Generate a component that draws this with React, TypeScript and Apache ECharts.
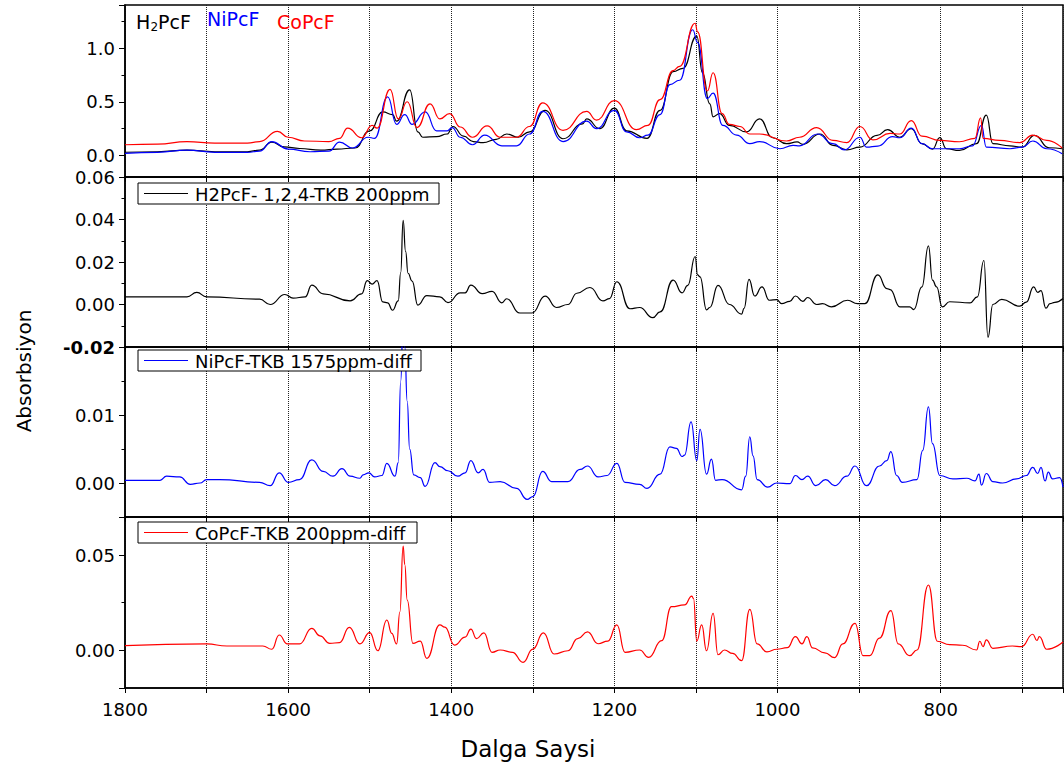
import React, { useEffect, useRef } from "react";
import * as echarts from "echarts";

// ---- Data: wavenumber (cm-1), absorbance ----
const topH2PcF: number[][] = [
  [1800, 0.03], [1760, 0.035], [1724, 0.05], [1690, 0.035], [1650, 0.035], [1635, 0.05], [1620, 0.125],
  [1605, 0.08], [1586, 0.065], [1560, 0.05], [1540, 0.06], [1518, 0.07], [1500, 0.23], [1484, 0.405],
  [1472, 0.38], [1467, 0.32], [1451, 0.61], [1441, 0.22], [1435, 0.17], [1418, 0.175], [1405, 0.2],
  [1398, 0.27], [1385, 0.18], [1373, 0.13], [1361, 0.12], [1345, 0.15], [1332, 0.2], [1318, 0.17],
  [1304, 0.22], [1285, 0.42], [1263, 0.156], [1239, 0.295], [1234, 0.34], [1218, 0.25], [1200, 0.44],
  [1185, 0.23], [1160, 0.16], [1144, 0.42], [1128, 0.78], [1116, 0.81], [1099, 1.11], [1092, 0.77],
  [1083, 0.48], [1079, 0.36], [1071, 0.39], [1059, 0.28], [1038, 0.22], [1022, 0.34], [1006, 0.165],
  [989, 0.11], [976, 0.126], [969, 0.104], [948, 0.2], [932, 0.095], [915, 0.053], [899, 0.078],
  [878, 0.187], [865, 0.24], [850, 0.17], [836, 0.25], [823, 0.11], [810, 0.06], [801, 0.166],
  [793, 0.063], [777, 0.047], [756, 0.11], [744, 0.375], [736, 0.11], [715, 0.09], [700, 0.078],
  [685, 0.187], [667, 0.072], [651, 0.063],
];

const topNiPcF: number[][] = [
  [1800, 0.02], [1760, 0.03], [1724, 0.05], [1690, 0.03], [1650, 0.03], [1635, 0.04], [1620, 0.13],
  [1600, 0.06], [1573, 0.035], [1550, 0.04], [1537, 0.125], [1521, 0.07], [1502, 0.17], [1494, 0.16],
  [1478, 0.545], [1467, 0.29], [1457, 0.38], [1448, 0.29], [1432, 0.405], [1418, 0.23], [1405, 0.23],
  [1399, 0.26], [1389, 0.17], [1374, 0.1], [1359, 0.19], [1338, 0.09], [1320, 0.09], [1304, 0.2],
  [1288, 0.41], [1263, 0.13], [1234, 0.32], [1222, 0.25], [1200, 0.42], [1185, 0.22], [1169, 0.165],
  [1159, 0.19], [1144, 0.38], [1132, 0.66], [1120, 0.7], [1104, 1.17], [1098, 1.05], [1086, 0.53],
  [1079, 0.58], [1067, 0.28], [1050, 0.19], [1034, 0.11], [1022, 0.13], [997, 0.063], [981, 0.094],
  [973, 0.09], [951, 0.2], [932, 0.11], [918, 0.053], [899, 0.17], [891, 0.078], [877, 0.088],
  [859, 0.175], [850, 0.165], [836, 0.255], [823, 0.11], [810, 0.063], [793, 0.063], [777, 0.063],
  [761, 0.09], [750, 0.28], [744, 0.078], [715, 0.063], [700, 0.078], [687, 0.135], [670, 0.063],
  [651, 0.016],
];

const topCoPcF: number[][] = [
  [1800, 0.1], [1760, 0.105], [1724, 0.13], [1690, 0.115], [1650, 0.115], [1635, 0.13], [1613, 0.225],
  [1600, 0.17], [1580, 0.135], [1550, 0.13], [1537, 0.16], [1527, 0.255], [1510, 0.165], [1497, 0.28],
  [1491, 0.255], [1475, 0.615], [1465, 0.34], [1454, 0.5], [1442, 0.26], [1426, 0.48], [1414, 0.34],
  [1402, 0.39], [1389, 0.265], [1374, 0.17], [1356, 0.275], [1340, 0.17], [1320, 0.17], [1304, 0.27],
  [1288, 0.49], [1263, 0.234], [1234, 0.41], [1222, 0.33], [1200, 0.51], [1173, 0.24], [1159, 0.28],
  [1144, 0.52], [1128, 0.79], [1120, 0.83], [1101, 1.23], [1098, 1.15], [1086, 0.6], [1079, 0.77],
  [1068, 0.39], [1059, 0.29], [1046, 0.27], [1034, 0.2], [1022, 0.2], [989, 0.135], [973, 0.17],
  [952, 0.26], [932, 0.14], [915, 0.12], [899, 0.27], [883, 0.145], [862, 0.205], [850, 0.2],
  [836, 0.325], [823, 0.18], [801, 0.14], [777, 0.128], [758, 0.16], [751, 0.35], [748, 0.16],
  [728, 0.14], [703, 0.12], [687, 0.19], [670, 0.14], [651, 0.07],
];

const diffH2PcF: number[][] = [
  [1800, 0.0036], [1724, 0.0036], [1712, 0.0057], [1700, 0.0036], [1635, 0.0025], [1622, 0.0],
  [1604, 0.0047], [1594, 0.003], [1579, 0.0036], [1571, 0.0091], [1557, 0.005], [1524, 0.0017],
  [1510, 0.005], [1503, 0.0112], [1497, 0.0096], [1491, 0.0112], [1484, 0.0012], [1478, 0.0008],
  [1472, -0.0027], [1465, 0.0017], [1462, 0.015], [1459, 0.0396], [1456, 0.025], [1453, 0.0147],
  [1448, 0.011], [1441, -0.0003], [1430, 0.0042], [1414, 0.0036], [1404, 0.0009], [1389, 0.0055],
  [1383, 0.0055], [1376, 0.0091], [1362, 0.0051], [1350, 0.0062], [1338, 0.0008], [1332, 0.0027],
  [1316, -0.004], [1301, -0.004], [1285, 0.0039], [1271, -0.0014], [1257, 0.0], [1246, 0.0053],
  [1230, 0.008], [1214, 0.0017], [1206, 0.0028], [1197, 0.0107], [1181, -0.002], [1169, -0.0014],
  [1153, -0.0062], [1144, -0.0035], [1128, 0.0115], [1117, 0.0055], [1110, 0.009], [1101, 0.0226],
  [1098, 0.0139], [1095, 0.013], [1087, -0.0025], [1083, -0.0014], [1073, 0.009], [1059, 0.0],
  [1044, -0.0045], [1041, -0.0018], [1035, 0.0118], [1028, 0.004], [1019, 0.0083], [1010, 0.002],
  [1001, 0.0023], [995, 0.0004], [985, 0.0015], [978, 0.004], [969, 0.0015], [963, 0.0033],
  [952, 0.0], [945, 0.0004], [934, -0.0011], [914, 0.002], [902, 0.0004], [893, 0.0004],
  [877, 0.0139], [866, 0.0075], [862, 0.007], [850, -0.0011], [838, -0.0011], [833, -0.0024],
  [823, 0.0083], [815, 0.0276], [810, 0.0115], [805, 0.0083], [798, -0.0011], [789, 0.0013],
  [764, 0.0008], [755, 0.0036], [747, 0.0207], [742, -0.0154], [736, 0.0], [725, 0.0024],
  [703, -0.0008], [695, 0.0011], [686, 0.0083], [681, 0.0057], [677, 0.0065], [671, -0.0017],
  [666, 0.0004], [660, 0.001], [650, 0.0028],
];

const diffNiPcF: number[][] = [
  [1800, 0.0004], [1757, 0.0004], [1749, 0.001], [1733, 0.0009], [1720, -0.0002], [1708, 0.0],
  [1700, 0.0005], [1684, 0.0005], [1635, 0.0001], [1622, -0.0004], [1611, 0.0015], [1600, 0.0001],
  [1586, 0.0005], [1571, 0.0034], [1557, 0.0017], [1545, 0.001], [1534, 0.0021], [1524, 0.001],
  [1512, 0.0007], [1508, 0.0012], [1501, 0.0015], [1494, 0.0009], [1485, 0.0011], [1479, 0.0029],
  [1469, 0.001], [1465, 0.003], [1462, 0.015], [1459, 0.024], [1457, 0.02], [1454, 0.012],
  [1451, 0.005], [1446, 0.0012], [1438, 0.0008], [1432, -0.0005], [1420, 0.003], [1414, 0.0024],
  [1404, 0.0018], [1392, 0.001], [1383, 0.0015], [1376, 0.0033], [1367, 0.0015], [1361, 0.002],
  [1353, 0.0001], [1340, 0.0002], [1320, -0.0008], [1307, -0.0024], [1300, -0.002], [1288, 0.0017],
  [1277, 0.0002], [1257, 0.0002], [1242, 0.002], [1233, 0.0025], [1220, 0.0009], [1209, 0.0011],
  [1197, 0.0029], [1187, 0.0001], [1169, -0.0002], [1160, -0.0008], [1144, 0.0013], [1132, 0.0053],
  [1124, 0.0051], [1117, 0.0039], [1114, 0.0041], [1106, 0.009], [1099, 0.0033], [1095, 0.0079],
  [1087, 0.0013], [1081, 0.0035], [1076, 0.0004], [1068, 0.0005], [1044, -0.001], [1039, 0.001],
  [1034, 0.0068], [1030, 0.004], [1025, 0.0005], [1012, -0.0006], [1001, 0.0], [985, -0.0001],
  [978, 0.0011], [970, 0.0005], [963, 0.001], [953, -0.0004], [941, 0.0005], [930, -0.0004],
  [915, 0.001], [905, 0.0025], [891, -0.0004], [875, 0.0025], [866, 0.0033], [861, 0.0046],
  [854, 0.0011], [847, 0.0001], [829, 0.0005], [822, 0.0048], [815, 0.0112], [810, 0.0058],
  [801, 0.0011], [785, 0.0006], [768, 0.0007], [758, 0.0003], [753, 0.0013], [750, -0.0003],
  [744, 0.0014], [736, 0.0002], [724, 0.0], [707, 0.0006], [695, 0.0011], [687, 0.0023],
  [681, 0.0014], [677, 0.0023], [672, 0.0003], [668, 0.0016], [663, 0.0006], [654, 0.0008],
  [650, -0.0006],
];

const diffCoPcF: number[][] = [
  [1800, 0.0023], [1700, 0.0032], [1675, 0.0021], [1631, 0.0021], [1620, 0.0004], [1611, 0.0079],
  [1601, 0.0032], [1586, 0.0032], [1571, 0.0114], [1561, 0.0074], [1549, 0.0035], [1537, 0.0039],
  [1525, 0.0119], [1512, 0.0032], [1500, 0.0091], [1490, -0.0004], [1479, 0.0158], [1473, 0.0088],
  [1467, 0.0032], [1463, 0.02], [1459, 0.0547], [1457, 0.045], [1454, 0.0263], [1447, 0.0035],
  [1438, 0.0047], [1430, -0.0044], [1414, 0.0132], [1408, 0.012], [1396, 0.0026], [1383, 0.0068],
  [1376, 0.011], [1369, 0.006], [1360, 0.009], [1350, -0.0012], [1340, 0.0], [1325, -0.0012],
  [1312, -0.0065], [1300, 0.0005], [1287, 0.009], [1274, -0.0021], [1257, -0.0004], [1245, 0.006],
  [1233, 0.0095], [1220, 0.0033], [1208, 0.0047], [1197, 0.0132], [1187, -0.0012], [1169, 0.0],
  [1158, -0.0039], [1142, 0.0049], [1130, 0.0228], [1114, 0.0237], [1105, 0.0284], [1103, 0.027],
  [1099, 0.0047], [1093, 0.0132], [1087, -0.0004], [1079, 0.0193], [1073, -0.0025], [1065, 0.0],
  [1055, -0.0018], [1044, -0.0056], [1034, 0.0214], [1025, 0.0032], [1013, -0.001], [1001, 0.0004],
  [988, 0.0012], [978, 0.007], [970, 0.0032], [964, 0.007], [957, 0.0011], [942, -0.0015],
  [930, -0.004], [920, 0.0032], [905, 0.014], [895, -0.003], [887, -0.003], [875, 0.0063],
  [861, 0.0207], [852, 0.0032], [838, -0.003], [829, 0.0], [815, 0.0342], [804, 0.0046],
  [789, 0.0028], [773, 0.0025], [756, 0.0], [752, 0.0046], [748, 0.0018], [744, 0.0053],
  [736, 0.0009], [712, 0.0021], [701, 0.0018], [687, 0.0083], [682, 0.005], [679, 0.007],
  [670, 0.0004], [650, 0.0042],
];

const legendLabels = ["H2PcF- 1,2,4-TKB 200ppm", "NiPcF-TKB 1575ppm-diff", "CoPcF-TKB 200ppm-diff"];
const xTitle = "Dalga Saysi";
const yTitle = "Absorbsiyon";

const FONT = "DejaVu Sans";
const BLACK = "#000000";
const BLUE = "#0000ff";
const RED = "#ff0000";

const X_MIN = 650;
const X_MAX = 1800;
const GRID_LEFT = 125;
const GRID_WIDTH = 938;
const panels = [
  { top: 5, height: 172, min: -0.2, max: 1.4, split: 3, digits: 1, step: 0.5 },
  { top: 177, height: 170, min: -0.02, max: 0.06, split: 4, digits: 2, step: 0.02 },
  { top: 347, height: 170, min: -0.005, max: 0.02, split: 2, digits: 2, step: 0.01 },
  { top: 517, height: 171, min: -0.02, max: 0.07, split: 2, digits: 2, step: 0.05 },
];

function isMultiple(v: number, step: number) {
  const r = v / step;
  return Math.abs(r - Math.round(r)) < 1e-6;
}

export default function App() {
  const ref = useRef<HTMLDivElement>(null);

  useEffect(() => {
    if (!ref.current) return;
    const chart = echarts.init(ref.current, undefined, { renderer: "svg" });

    const grid = panels.map((p) => ({
      left: GRID_LEFT,
      top: p.top,
      width: GRID_WIDTH,
      height: p.height,
      show: true,
      borderColor: BLACK,
      borderWidth: 1.5,
      backgroundColor: "transparent",
      containLabel: false,
      outerBoundsMode: "none",
    }));

    const xAxis = panels.map((p, i) => ({
      type: "value",
      gridIndex: i,
      min: X_MIN,
      max: X_MAX,
      inverse: true,
      splitNumber: 10,
      position: "bottom",
      axisLine: { show: true, onZero: false, lineStyle: { color: BLACK, width: 1.5 } },
      axisTick: { show: true, inside: false, length: 5, lineStyle: { color: BLACK, width: 1 } },
      axisLabel: {
        show: i === 3,
        margin: 12,
        fontFamily: FONT,
        fontSize: 18,
        color: BLACK,
        formatter: (v: number) => (Math.round(v) % 200 === 0 ? String(Math.round(v)) : ""),
      },
      splitLine: { show: true, lineStyle: { type: "dotted", color: "#222", width: 1 } },
    }));

    const yAxis = panels.map((p, i) => ({
      type: "value",
      gridIndex: i,
      min: p.min,
      max: p.max,
      position: "left",
      ...(i === 1 ? { interval: p.step } : { splitNumber: p.split }),
      axisLine: { show: true, onZero: false, lineStyle: { color: BLACK, width: 1.5 } },
      axisTick: { show: true, inside: false, length: 6, lineStyle: { color: BLACK, width: 1 } },
      minorTick: { show: true, splitNumber: 2, length: 3.5, lineStyle: { color: BLACK, width: 1 } },
      splitLine: { show: false },
      axisLabel: {
        margin: 10,
        fontFamily: FONT,
        fontSize: 18,
        color: BLACK,
        showMinLabel: true,
        showMaxLabel: true,
        formatter: (v: number) => {
          if (!isMultiple(v, p.step)) return "";
          if (i === 2 && Math.abs(v - 0.02) < 1e-9) return "";
          if (i === 1 && Math.abs(v + 0.02) < 1e-9) return "{b|-0.02}";
          return (Math.abs(v) < 1e-12 ? 0 : v).toFixed(p.digits);
        },
        rich: { b: { fontFamily: FONT, fontSize: 18, fontWeight: "bold", color: BLACK } },
      },
    }));

    const mk = (data: number[][], idx: number, color: string, name: string) => ({
      type: "line",
      name,
      xAxisIndex: idx,
      yAxisIndex: idx,
      data,
      showSymbol: false,
      symbol: "none",
      smooth: 0.5,
      smoothMonotone: "x",
      clip: true,
      lineStyle: { color, width: 1.2 },
    });

    const legendBox = (top: number, width: number, color: string, text: string) => ({
      type: "group",
      children: [
        { type: "rect", shape: { x: 138, y: top, width, height: 21 }, style: { fill: "#fff", stroke: BLACK, lineWidth: 1 }, z: 100 },
        { type: "line", shape: { x1: 144, y1: top + 10.5, x2: 188, y2: top + 10.5 }, style: { stroke: color, lineWidth: 1 }, z: 101 },
        { type: "text", x: 195, y: top + 11, style: { text, fontFamily: FONT, fontSize: 18, fill: BLACK, verticalAlign: "middle", align: "left" }, z: 101 },
      ],
    });

    chart.setOption({
      animation: false,
      backgroundColor: "#ffffff",
      grid,
      xAxis,
      yAxis,
      series: [
        mk(topH2PcF, 0, BLACK, "H2PcF"),
        mk(topNiPcF, 0, BLUE, "NiPcF"),
        mk(topCoPcF, 0, RED, "CoPcF"),
        mk(diffH2PcF, 1, BLACK, legendLabels[0]),
        mk(diffNiPcF, 2, BLUE, legendLabels[1]),
        mk(diffCoPcF, 3, RED, legendLabels[2]),
      ],
      graphic: [
        { type: "text", x: 136, y: 22, style: { text: "H", fontFamily: FONT, fontSize: 19, fill: BLACK, verticalAlign: "middle" }, z: 100 },
        { type: "text", x: 150.5, y: 27, style: { text: "2", fontFamily: FONT, fontSize: 12, fill: BLACK, verticalAlign: "middle" }, z: 100 },
        { type: "text", x: 158, y: 22, style: { text: "PcF", fontFamily: FONT, fontSize: 19, fill: BLACK, verticalAlign: "middle" }, z: 100 },
        { type: "text", x: 207, y: 19, style: { text: "NiPcF", fontFamily: FONT, fontSize: 19, fill: BLUE, verticalAlign: "middle" }, z: 100 },
        { type: "text", x: 277, y: 22, style: { text: "CoPcF", fontFamily: FONT, fontSize: 19, fill: RED, verticalAlign: "middle" }, z: 100 },
        legendBox(183, 301, BLACK, legendLabels[0]),
        legendBox(350, 283, BLUE, legendLabels[1]),
        legendBox(522, 279, RED, legendLabels[2]),
        {
          type: "text",
          x: 24,
          y: 371,
          rotation: Math.PI / 2,
          style: { text: yTitle, fontFamily: FONT, fontSize: 20, fill: BLACK, align: "center", verticalAlign: "middle" },
        },
        {
          type: "text",
          x: 528,
          y: 749,
          style: { text: xTitle, fontFamily: FONT, fontSize: 23, fill: BLACK, align: "center", verticalAlign: "middle" },
        },
      ],
    });

    return () => chart.dispose();
  }, []);

  return (
    <div
      ref={ref}
      style={{ position: "absolute", left: 0, top: 0, width: 1064, height: 771, background: "#fff" }}
    />
  );
}
